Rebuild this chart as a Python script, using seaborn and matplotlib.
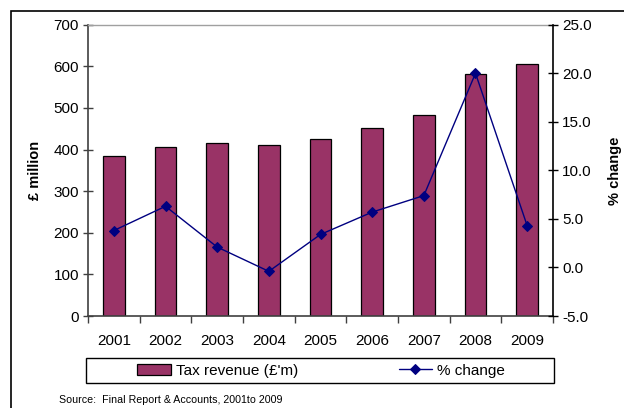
import numpy as np
import pandas as pd
import matplotlib
matplotlib.use("Agg")
import matplotlib.pyplot as plt
from matplotlib.patches import Rectangle
from matplotlib.ticker import FixedLocator
import seaborn as sns

years = ["2001", "2002", "2003", "2004", "2005", "2006", "2007", "2008", "2009"]
tax_revenue = [384, 406, 415, 412, 426, 451, 483, 582, 605]
pct_change = [3.8, 6.3, 2.1, -0.4, 3.4, 5.7, 7.4, 20.0, 4.3]
left_ticks = [0, 100, 200, 300, 400, 500, 600, 700]
right_ticks = [-5.0, 0.0, 5.0, 10.0, 15.0, 20.0, 25.0]

sns.set_theme(style="white")
plt.rcParams["font.family"] = ["Liberation Sans", "DejaVu Sans"]
plt.rcParams["text.color"] = "black"
plt.rcParams["axes.labelcolor"] = "black"

df = pd.DataFrame({"year": years, "revenue": tax_revenue, "pct": pct_change})

fig = plt.figure(figsize=(6.24, 4.08), dpi=100)
ax = fig.add_axes([88 / 624, 1 - 316 / 408, (553 - 88) / 624, (316 - 24.7) / 408])

sns.barplot(data=df, x="year", y="revenue", ax=ax, color="#993366",
            saturation=1, width=0.42, edgecolor="black", linewidth=0.9,
            label="Tax revenue (£'m)")
ax.set_xlim(-0.5, len(years) - 0.5)
ax.set_ylim(0, 700)
ax.set_yticks(left_ticks)
ax.set_xlabel("")
ax.set_ylabel("£ million", fontsize=10.5, fontweight="bold", labelpad=8)
ax.xaxis.set_minor_locator(FixedLocator(np.arange(-0.5, len(years), 1.0)))
ax.tick_params(axis="x", which="major", length=0, labelsize=11, pad=13,
               labelcolor="black")
ax.tick_params(axis="x", which="minor", length=5, width=1, direction="out",
               color="#404040", bottom=True)
ax.tick_params(axis="y", length=7, width=1, direction="inout", color="#404040",
               labelsize=11, pad=3, left=True, labelcolor="black")
for side in ["left", "bottom"]:
    ax.spines[side].set_color("#404040")
    ax.spines[side].set_linewidth(1.2)
ax.spines["top"].set_color("#a0a0a0")
ax.spines["top"].set_linewidth(1.0)
ax.spines["right"].set_visible(False)

ax2 = ax.twinx()
sns.lineplot(x=np.arange(len(years)), y=df["pct"], ax=ax2, color="#000080",
             marker="D", markersize=5, markeredgecolor="#000080",
             linewidth=1.0, label="% change")
ax2.set_ylim(-5, 25)
ax2.set_yticks(right_ticks)
ax2.set_yticklabels([f"{v:.1f}" for v in right_ticks])
ax2.set_ylabel("% change", fontsize=10.5, fontweight="bold", rotation=90, labelpad=12)
ax2.tick_params(axis="y", length=7, width=1, direction="inout", color="black",
                labelsize=11, pad=3, right=True, labelcolor="black")
ax2.spines["right"].set_color("black")
ax2.spines["right"].set_linewidth(1.2)
for side in ["left", "bottom", "top"]:
    ax2.spines[side].set_visible(False)
if ax2.get_legend() is not None:
    ax2.get_legend().remove()
if ax.get_legend() is not None:
    ax.get_legend().remove()

# Legend entries, centred inside a wide rectangular box under the plot
h1, l1 = ax.get_legend_handles_labels()
h2, l2 = ax2.get_legend_handles_labels()
leg = fig.legend(h1 + h2, l1 + l2, ncol=2, loc="center",
                 bbox_to_anchor=(321 / 624, 1 - 370.5 / 408),
                 frameon=False, fontsize=11, columnspacing=6.6,
                 handlelength=2.2, handletextpad=0.3)
fig.add_artist(Rectangle((86 / 624, 1 - 383 / 408), (554 - 86) / 624,
                         (383 - 357.7) / 408, transform=fig.transFigure,
                         fill=False, edgecolor="black", linewidth=1.0))

fig.text(59 / 624, 1 - 400 / 408, "Source:  Final Report & Accounts, 2001to 2009",
         fontsize=7.7, va="center", ha="left")

fig.add_artist(Rectangle((11 / 624, -0.05), 1.0, 1 - 11 / 408 + 0.05,
                         transform=fig.transFigure, fill=False,
                         edgecolor="black", linewidth=1.2, clip_on=False))

fig.savefig("out.png", dpi=100)
